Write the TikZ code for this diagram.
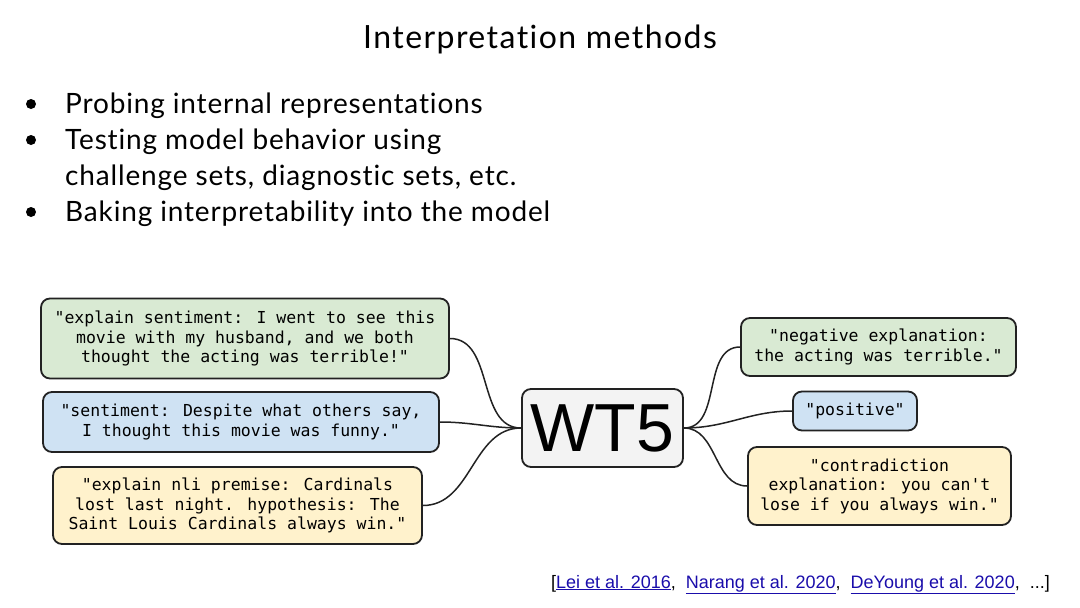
\documentclass[tikz,border=0pt]{standalone}
\usepackage{fontspec}
\setmainfont{Lato}[Ligatures=NoCommon]
\newfontfamily\titlef{Lato}[Ligatures=NoCommon, LetterSpace=4.5]
\newfontfamily\bulf{Lato}[Ligatures=NoCommon, LetterSpace=3]
\newfontfamily\monof{DejaVu Sans Mono}
\newfontfamily\arialf{Liberation Sans}
\definecolor{gfill}{HTML}{D9EAD3}
\definecolor{bfill}{HTML}{CFE2F3}
\definecolor{yfill}{HTML}{FFF2CC}
\definecolor{wfill}{HTML}{F3F3F3}
\definecolor{linkc}{HTML}{1A0DAB}
\definecolor{edgec}{HTML}{222222}
\tikzset{
  box/.style={draw=edgec, line width=1.8pt, rounded corners=9pt, align=center, inner sep=0pt,
    font=\monof\fontsize{16.5}{19.5}\selectfont},
  conn/.style={draw=edgec, line width=1.5pt},
  bul/.style={font=\bulf\fontsize{28}{32}\selectfont, anchor=base west, inner sep=0pt},
  dot/.style={circle, fill=black, inner sep=0pt, minimum size=10pt}
}
\begin{document}
\begin{tikzpicture}[x=1pt,y=-1pt]
\useasboundingbox (0,0) rectangle (1080,608);
\fill[white] (0,0) rectangle (1080,608);
\node[font=\titlef\fontsize{32}{38}\selectfont, anchor=base] (title) at (540,48) {Interpretation methods};
\node[dot] (d1) at (31,104) {};
\node[dot] (d2) at (31,140) {};
\node[dot] (d3) at (31,212) {};
\node[bul] (b1) at (65,113) {Probing internal representations};
\node[bul] (b2) at (65,149) {Testing model behavior using};
\node[bul] (b2b) at (65,185) {challenge sets, diagnostic sets, etc.};
\node[bul] (b3) at (65,221) {Baking interpretability into the model};

\node[box, fill=gfill, minimum width=408pt, minimum height=80pt] (lg) at (245,338.5)
  {"explain sentiment: I went to see this\\movie with my husband, and we both\\thought the acting was terrible!"};
\node[box, fill=bfill, minimum width=396pt, minimum height=60pt] (lb) at (241,422)
  {"sentiment: Despite what others say,\\I thought this movie was funny."};
\node[box, fill=yfill, minimum width=369pt, minimum height=77pt] (ly) at (237.5,505.5)
  {"explain nli premise: Cardinals\\lost last night. hypothesis: The\\Saint Louis Cardinals always win."};
\node[box, fill=wfill, minimum width=161pt, minimum height=78pt, font=\arialf\fontsize{68}{72}\selectfont] (wt5) at (602.5,428) {WT5};
\node[box, fill=gfill, minimum width=275pt, minimum height=58pt] (rg) at (878.5,347)
  {"negative explanation:\\the acting was terrible."};
\node[box, fill=bfill, minimum width=124pt, minimum height=39pt] (rb) at (855,411)
  {"positive"};
\node[box, fill=yfill, minimum width=263pt, minimum height=78pt] (ry) at (879.5,486)
  {"contradiction\\explanation: you can't\\lose if you always win."};

\draw[conn] (lg.east) to[out=0,in=180] (wt5.west);
\draw[conn] (lb.east) to[out=0,in=180] (wt5.west);
\draw[conn] (ly.east) to[out=0,in=180] (wt5.west);
\draw[conn] (wt5.east) to[out=0,in=180] (rg.west);
\draw[conn] (wt5.east) to[out=0,in=180] (rb.west);
\draw[conn] (wt5.east) to[out=0,in=180] (ry.west);

\node[font=\arialf\fontsize{18}{22}\selectfont, anchor=base east, inner sep=0pt] (cite) at (1050,588)
  {[\textcolor{linkc}{\underline{Lei et al. 2016}}, \ \textcolor{linkc}{\underline{Narang et al. 2020}}, \ \textcolor{linkc}{\underline{DeYoung et al. 2020}}, \ ...]};
\end{tikzpicture}
\end{document}
